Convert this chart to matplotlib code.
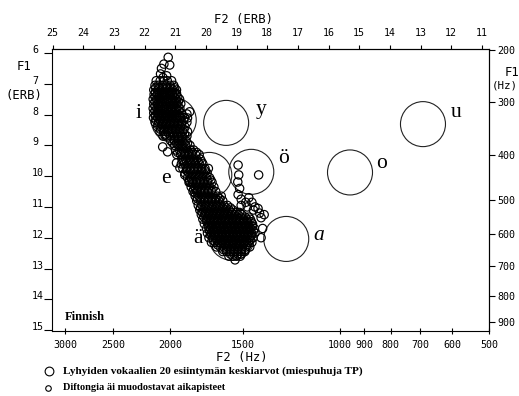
import numpy as np
import matplotlib.pyplot as plt
from matplotlib.lines import Line2D

# vowel means (ERB)
vowels = ['i', 'y', 'e', 'ö', 'ä', 'a', 'o', 'u']
vowel_f2 = [21.05, 19.34, 19.89, 18.52, 19.16, 17.38, 15.30, 12.92]
vowel_f1 = [8.18, 8.27, 9.96, 9.86, 12.00, 12.04, 9.88, 8.31]

# äi time points, loose ones (F2, F1) in ERB
diph_loose = [
    (21.23, 6.14), (21.37, 6.36), (21.18, 6.39), (21.45, 6.50), (21.48, 6.68),
    (21.40, 6.80), (21.28, 6.74), (20.96, 7.31), (20.53, 7.91), (20.60, 8.11),
    (20.62, 7.98), (21.34, 8.66), (21.41, 9.05), (21.25, 9.21), (20.96, 9.57),
    (20.85, 9.73), (20.69, 9.96), (20.53, 10.18), (20.36, 10.55),
    (18.95, 9.64), (18.93, 9.96), (18.96, 10.19), (18.28, 9.96), (18.90, 10.40),
    (18.95, 10.60), (18.85, 10.75), (18.70, 10.85), (18.60, 10.70), (18.50, 10.85),
    (18.40, 11.00), (18.30, 11.05), (18.85, 10.95), (18.65, 11.00), (18.45, 11.10),
    (18.25, 11.20), (18.20, 11.35), (18.10, 11.25), (18.15, 11.70), (18.20, 12.00),
]

# dense part of the cloud, read band by band: (F1, [F2 ...])
diph_rows = [
    (6.90, [21.62, 21.49, 21.38, 21.26, 21.12]),
    (7.05, [21.66, 21.56, 21.41, 21.30, 21.17, 21.05]),
    (7.20, [21.70, 21.57, 21.47, 21.33, 21.21, 21.08, 20.96]),
    (7.35, [21.69, 21.59, 21.45, 21.34, 21.20, 21.09, 20.97]),
    (7.50, [21.72, 21.61, 21.47, 21.35, 21.23, 21.10, 20.98, 20.86]),
    (7.65, [21.70, 21.57, 21.46, 21.32, 21.19, 21.07, 20.94, 20.82]),
    (7.80, [21.72, 21.60, 21.48, 21.36, 21.23, 21.11, 20.98, 20.85]),
    (7.95, [21.70, 21.57, 21.44, 21.31, 21.19, 21.06, 20.93, 20.80]),
    (8.10, [21.71, 21.58, 21.45, 21.33, 21.20, 21.08, 20.95, 20.83, 20.70]),
    (8.25, [21.66, 21.54, 21.41, 21.29, 21.16, 21.04, 20.91, 20.78, 20.62]),
    (8.40, [21.58, 21.46, 21.33, 21.21, 21.08, 20.96, 20.83, 20.68]),
    (8.55, [21.50, 21.38, 21.26, 21.13, 21.00, 20.88, 20.75, 20.60]),
    (8.70, [21.40, 21.28, 21.15, 21.03, 20.90, 20.78, 20.62]),
    (8.85, [21.15, 21.02, 20.90, 20.78, 20.65]),
    (9.00, [21.02, 20.90, 20.78, 20.66, 20.52]),
    (9.15, [20.98, 20.86, 20.74, 20.62, 20.50, 20.40]),
    (9.30, [20.95, 20.82, 20.70, 20.58, 20.46, 20.34, 20.22]),
    (9.45, [20.78, 20.66, 20.54, 20.42, 20.30, 20.18]),
    (9.60, [20.80, 20.70, 20.58, 20.46, 20.34, 20.22, 20.10]),
    (9.75, [20.75, 20.63, 20.51, 20.39, 20.27, 20.15, 20.03, 19.92]),
    (9.90, [20.68, 20.56, 20.44, 20.32, 20.20, 20.08, 19.96]),
    (10.05, [20.60, 20.48, 20.36, 20.24, 20.12, 20.00, 19.88]),
    (10.20, [20.55, 20.43, 20.31, 20.19, 20.07, 19.95, 19.80]),
    (10.35, [20.48, 20.36, 20.24, 20.12, 20.00, 19.88, 19.74]),
    (10.50, [20.42, 20.30, 20.18, 20.06, 19.94, 19.82, 19.68]),
    (10.65, [20.35, 20.23, 20.11, 19.99, 19.87, 19.75, 19.62, 19.50]),
    (10.80, [20.30, 20.18, 20.06, 19.94, 19.82, 19.70, 19.58, 19.45]),
    (10.95, [20.25, 20.13, 20.01, 19.89, 19.77, 19.65, 19.53, 19.41, 19.30]),
    (11.10, [20.20, 20.08, 19.96, 19.84, 19.72, 19.60, 19.48, 19.36, 19.24, 19.12]),
    (11.25, [20.15, 20.03, 19.91, 19.79, 19.67, 19.55, 19.43, 19.31, 19.19, 19.07, 18.95, 18.83]),
    (11.40, [20.10, 19.98, 19.86, 19.74, 19.62, 19.50, 19.38, 19.26, 19.14, 19.02, 18.90, 18.78, 18.66, 18.55]),
    (11.55, [20.05, 19.92, 19.80, 19.68, 19.56, 19.44, 19.32, 19.20, 19.08, 18.96, 18.84, 18.72, 18.60, 18.48]),
    (11.70, [19.98, 19.86, 19.74, 19.62, 19.50, 19.38, 19.26, 19.14, 19.02, 18.90, 18.78, 18.66, 18.54, 18.42]),
    (11.85, [19.95, 19.83, 19.71, 19.59, 19.47, 19.35, 19.23, 19.11, 18.99, 18.87, 18.75, 18.63, 18.51, 18.40]),
    (12.00, [19.90, 19.78, 19.66, 19.54, 19.42, 19.30, 19.18, 19.06, 18.94, 18.82, 18.70, 18.58, 18.46]),
    (12.15, [19.82, 19.70, 19.58, 19.46, 19.34, 19.22, 19.10, 18.98, 18.86, 18.74, 18.62, 18.50]),
    (12.30, [19.65, 19.53, 19.41, 19.29, 19.17, 19.05, 18.93, 18.81, 18.69, 18.57]),
    (12.45, [19.45, 19.33, 19.21, 19.09, 18.97, 18.85, 18.73]),
    (12.60, [19.25, 19.12, 19.00, 18.88]),
    (12.72, [19.05]),
]

# second pass over the darkest parts (between the bands above)
diph_rows_mid = [
    (7.13, [21.64, 21.52, 21.40, 21.27, 21.15, 21.02]),
    (7.28, [21.65, 21.52, 21.39, 21.27, 21.15, 21.03]),
    (7.43, [21.66, 21.54, 21.41, 21.29, 21.16, 21.04, 20.92]),
    (7.58, [21.66, 21.53, 21.41, 21.28, 21.16, 21.03, 20.90]),
    (7.73, [21.66, 21.54, 21.42, 21.30, 21.17, 21.04, 20.91]),
    (7.88, [21.66, 21.54, 21.42, 21.29, 21.16, 21.03, 20.88]),
    (8.03, [21.65, 21.52, 21.39, 21.26, 21.13, 21.01, 20.88, 20.76]),
    (8.18, [21.62, 21.50, 21.37, 21.25, 21.12, 20.99, 20.86, 20.72]),
    (8.33, [21.56, 21.43, 21.30, 21.18, 21.05, 20.92, 20.80]),
    (8.48, [21.48, 21.36, 21.23, 21.10, 20.98, 20.85, 20.72]),
    (8.63, [21.32, 21.20, 21.08, 20.95, 20.83, 20.70]),
    (8.93, [21.08, 20.96, 20.84, 20.72, 20.60]),
    (9.23, [20.92, 20.80, 20.68, 20.56, 20.44, 20.30]),
    (9.53, [20.74, 20.62, 20.50, 20.38, 20.26, 20.14]),
    (9.83, [20.62, 20.50, 20.38, 20.26, 20.14, 20.02]),
    (10.13, [20.54, 20.42, 20.30, 20.18, 20.06, 19.94, 19.84]),
    (10.43, [20.40, 20.28, 20.16, 20.04, 19.92, 19.80]),
    (10.73, [20.28, 20.16, 20.04, 19.92, 19.80, 19.68, 19.55]),
    (11.03, [20.18, 20.06, 19.94, 19.82, 19.70, 19.58, 19.46, 19.34, 19.20]),
    (11.18, [20.12, 20.00, 19.88, 19.76, 19.64, 19.52, 19.40, 19.28, 19.16, 19.02, 18.90]),
    (11.33, [20.06, 19.94, 19.82, 19.70, 19.58, 19.46, 19.34, 19.22, 19.10, 18.98, 18.86, 18.72, 18.60]),
    (11.48, [19.97, 19.85, 19.73, 19.61, 19.49, 19.37, 19.25, 19.13, 19.01, 18.89, 18.77, 18.65, 18.52]),
    (11.63, [19.92, 19.80, 19.68, 19.56, 19.44, 19.32, 19.20, 19.08, 18.96, 18.84, 18.72, 18.60, 18.48]),
    (11.78, [19.88, 19.76, 19.64, 19.52, 19.40, 19.28, 19.16, 19.04, 18.92, 18.80, 18.68, 18.56, 18.45]),
    (11.93, [19.84, 19.72, 19.60, 19.48, 19.36, 19.24, 19.12, 19.00, 18.88, 18.76, 18.64, 18.52]),
    (12.08, [19.76, 19.64, 19.52, 19.40, 19.28, 19.16, 19.04, 18.92, 18.80, 18.68, 18.56]),
    (12.23, [19.62, 19.50, 19.38, 19.26, 19.14, 19.02, 18.90, 18.78, 18.66]),
    (12.38, [19.44, 19.32, 19.20, 19.08, 18.96, 18.84, 18.72]),
    (12.53, [19.20, 19.08, 18.96, 18.84]),
]

# axis ticks
f2_erb_ticks = list(range(25, 10, -1))
f1_erb_ticks = list(range(6, 16))
f2_hz_ticks = [3000, 2500, 2000, 1500, 1000, 900, 800, 700, 600, 500]
f1_hz_ticks = [200, 300, 400, 500, 600, 700, 800, 900]
f1_hz_pos = [5.89, 7.59, 9.31, 10.77, 11.87, 12.92, 13.89, 14.74]  # ERB, as read

label_off = {'i': (-25.6, 1.4), 'y': (24.8, 6.5), 'e': (-31.5, -5.8), 'ö': (23.4, 6.5),
             'ä': (-24.5, -4.0), 'a': (23.4, -0.7), 'o': (22.7, 3.2), 'u': (24.0, 5.0)}


def hz_to_erb(f):
    return 21.4 * np.log10(1 + 0.00437 * np.asarray(f, dtype=float))


mono = 'DejaVu Sans Mono'
serif = 'Liberation Serif'

fig = plt.figure(figsize=(5.19, 3.96), dpi=100)
ax = fig.add_axes([52 / 519, 1 - 331 / 396, 437 / 519, 282 / 396])
ax.set_xlim(25.02, hz_to_erb(500))
ax.set_ylim(15.03, 5.87)

# big circles = vowel means
ax.scatter(vowel_f2, vowel_f1, s=1050, facecolors='none', edgecolors='#222222',
           linewidths=0.8, zorder=2)
for v, x, y in zip(vowels, vowel_f2, vowel_f1):
    ax.annotate(v, (x, y), xytext=label_off[v], textcoords='offset points',
                ha='center', va='baseline', fontsize=15.5, family=serif,
                style='italic' if v == 'a' else 'normal')

# small circles = diphthong time points
rows = diph_rows + diph_rows_mid
dx = [p[0] for p in diph_loose] + [f2 for f1, row in rows for f2 in row]
dy = [p[1] for p in diph_loose] + [f1 for f1, row in rows for f2 in row]
ax.scatter(dx, dy, s=36, facecolors='none', edgecolors='black', linewidths=0.85, zorder=3)

# bottom: F2 Hz
ax.set_xticks(hz_to_erb(f2_hz_ticks))
ax.set_xticklabels([str(t) for t in f2_hz_ticks], family=mono, fontsize=7.2)
ax.tick_params(axis='x', direction='inout', length=5, width=0.8, pad=4)

# left: F1 ERB (labels drawn by hand, left aligned)
ax.set_yticks(f1_erb_ticks)
ax.tick_params(axis='y', direction='out', length=6, width=0.8, labelleft=False)
for t in f1_erb_ticks:
    ax.text(-20 / 437, t, str(t), transform=ax.get_yaxis_transform(), ha='left',
            va='baseline', family=mono, fontsize=7.2)

# top: F2 ERB
top = ax.secondary_xaxis('top', functions=(lambda v: v, lambda v: v))
top.set_xticks(f2_erb_ticks)
top.set_xticklabels([str(t) for t in f2_erb_ticks], family=mono, fontsize=7.2)
top.tick_params(direction='out', length=3, width=0.8, pad=5)

# right: F1 Hz
right = ax.secondary_yaxis('right', functions=(lambda v: v, lambda v: v))
right.set_yticks(f1_hz_pos)
right.set_yticklabels([str(t) for t in f1_hz_ticks], family=mono, fontsize=7.2)
right.tick_params(direction='out', length=4, width=0.8, pad=2)

for sp in list(ax.spines.values()) + list(top.spines.values()) + list(right.spines.values()):
    sp.set_linewidth(0.8)

# axis titles
fig.text(244 / 519, 1 - 19 / 396, 'F2 (ERB)', ha='center', va='center', family=mono, fontsize=8.8)
fig.text(242 / 519, 1 - 358 / 396, 'F2 (Hz)', ha='center', va='center', family=mono, fontsize=8.8)
fig.text(24.5 / 519, 1 - 66 / 396, 'F1', ha='center', va='center', family=mono, fontsize=8.8)
fig.text(24 / 519, 1 - 95 / 396, '(ERB)', ha='center', va='center', family=mono, fontsize=8.8)
fig.text(512 / 519, 1 - 72 / 396, 'F1', ha='center', va='center', family=mono, fontsize=8.8)
fig.text(492 / 519, 1 - 86 / 396, '(Hz)', ha='left', va='center', family=mono, fontsize=7.8)

fig.text(65 / 519, 1 - 317 / 396, 'Finnish', ha='left', va='center', family=serif,
         weight='bold', fontsize=9)

# legend
fig.add_artist(Line2D([48.5 / 519], [1 - 371 / 396], marker='o', markersize=6.3,
                      markerfacecolor='none', markeredgecolor='black', markeredgewidth=0.8,
                      linestyle='none'))
fig.add_artist(Line2D([48 / 519], [1 - 388 / 396], marker='o', markersize=4.0,
                      markerfacecolor='none', markeredgecolor='black', markeredgewidth=0.8,
                      linestyle='none'))
fig.text(63 / 519, 1 - 371 / 396, 'Lyhyiden vokaalien 20 esiintymän keskiarvot (miespuhuja TP)',
         ha='left', va='center', family=serif, weight='bold', fontsize=8.1)
fig.text(63 / 519, 1 - 388 / 396, 'Diftongia äi muodostavat aikapisteet',
         ha='left', va='center', family=serif, weight='bold', fontsize=7.5)

fig.savefig('out.png', dpi=100)
